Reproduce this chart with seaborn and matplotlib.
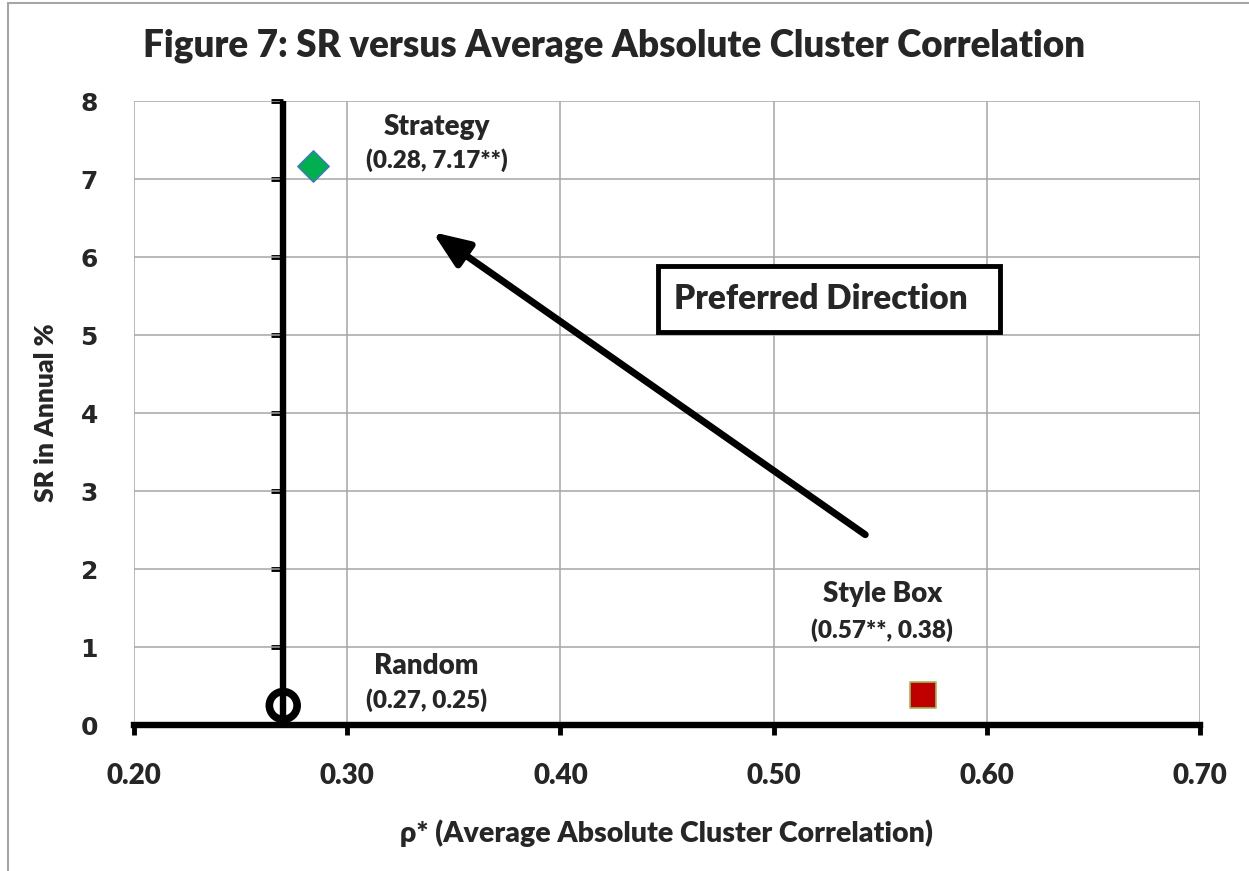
import matplotlib
matplotlib.use("Agg")
import matplotlib.pyplot as plt
import seaborn as sns
import pandas as pd
from matplotlib.lines import Line2D

# data
names = ["Strategy", "Random", "Style Box"]
rho = [0.284, 0.27, 0.57]
sr = [7.17, 0.25, 0.38]
value_labels = ["(0.28, 7.17**)", "(0.27, 0.25)", "(0.57**, 0.38)"]
x_ticks = [0.20, 0.30, 0.40, 0.50, 0.60, 0.70]
y_ticks = [0, 1, 2, 3, 4, 5, 6, 7, 8]
y_axis_cross = 0.27
arrow_start = (0.543, 2.44)
arrow_end = (0.340, 6.32)

# label placement (data coords of name line, value line)
label_pos = [(0.342, 7.67, 7.24), (0.337, 0.76, 0.32), (0.551, 1.68, 1.22)]
box_pos = (0.526, 5.46)

W = "heavy"

sns.set_style("white")
plt.rcParams["font.family"] = ["Lato", "DejaVu Sans"]
plt.rcParams["font.weight"] = W

df = pd.DataFrame({"name": names, "rho": rho, "sr": sr})

fig = plt.figure(figsize=(12.49, 8.71), dpi=100)
ax = fig.add_axes([134 / 1249, 1 - 725 / 871, (1200 - 134) / 1249, (725 - 101) / 871])

styles = {
    "Strategy": dict(marker="D", s=16 ** 2, color="#00B050", edgecolor="#4472C4", linewidths=1),
    "Random": dict(marker="o", s=20 ** 2, facecolor="none", edgecolor="black", linewidths=5.5),
    "Style Box": dict(marker="s", s=19 ** 2, color="#C00000", edgecolor="#9BBB59", linewidths=1.2),
}
for name in names:
    sub = df[df["name"] == name]
    sns.scatterplot(data=sub, x="rho", y="sr", ax=ax, zorder=5, clip_on=False, **styles[name])

ax.set_xlim(x_ticks[0], x_ticks[-1])
ax.set_ylim(y_ticks[0], y_ticks[-1])
ax.set_xticks(x_ticks)
ax.set_xticklabels([f"{t:.2f}" for t in x_ticks], fontsize=20, fontweight=W)
ax.set_yticks(y_ticks)
ax.set_yticklabels([str(t) for t in y_ticks], fontsize=18, fontweight="bold", family="DejaVu Sans")

ax.grid(True, color="#A6A6A6", linewidth=1.1)
ax.set_axisbelow(True)
for side in ["top", "right", "left"]:
    ax.spines[side].set_visible(False)
ax.spines["bottom"].set_linewidth(4.6)
ax.spines["bottom"].set_color("black")
ax.spines["bottom"].set_zorder(4)
ax.tick_params(axis="x", direction="out", length=7, width=3.5, color="black", pad=20, bottom=True)
ax.tick_params(axis="y", length=0, pad=26, left=False)

# vertical axis through rho = 0.27
ax.axvline(y_axis_cross, color="black", linewidth=4.6, zorder=4)
frac = (y_axis_cross - x_ticks[0]) / (x_ticks[-1] - x_ticks[0])
sec = ax.secondary_yaxis(frac)
sec.set_yticks(y_ticks)
sec.set_yticklabels([])
for sp in sec.spines.values():
    sp.set_visible(False)
sec.tick_params(axis="y", direction="out", length=9, width=3.5, color="black")

ax.set_xlabel("ρ* (Average Absolute Cluster Correlation)", fontsize=20.5, fontweight=W, labelpad=22)
ax.set_ylabel("SR in Annual %", fontsize=19, fontweight=W, labelpad=16)
fig.suptitle("Figure 7: SR versus Average Absolute Cluster Correlation",
             fontsize=26.5, fontweight=W, x=614 / 1249, y=1 - 46 / 871, va="center")

for (lx, ly1, ly2), name, val in zip(label_pos, names, value_labels):
    ax.text(lx, ly1, name, ha="center", va="center", fontsize=20, fontweight=W)
    ax.text(lx, ly2, val, ha="center", va="center", fontsize=17.5, fontweight=W)

ax.annotate("", xy=arrow_end, xytext=arrow_start,
            arrowprops=dict(arrowstyle="-|>,head_length=1.0,head_width=0.4", lw=5,
                            color="black", shrinkA=0, shrinkB=0, mutation_scale=22))

ax.text(box_pos[0], box_pos[1], "Preferred Direction  ", ha="center", va="center",
        fontsize=24, fontweight=W,
        bbox=dict(boxstyle="square,pad=0.5", fc="white", ec="black", lw=3.5))

# thin outer frame of the chart area
fig.add_artist(Line2D([8 / 1249, 8 / 1249], [0, 1 - 3 / 871], color="#A6A6A6", lw=1.5))
fig.add_artist(Line2D([8 / 1249, 1], [1 - 3 / 871, 1 - 3 / 871], color="#A6A6A6", lw=1.5))

fig.savefig("out.png", dpi=100)
